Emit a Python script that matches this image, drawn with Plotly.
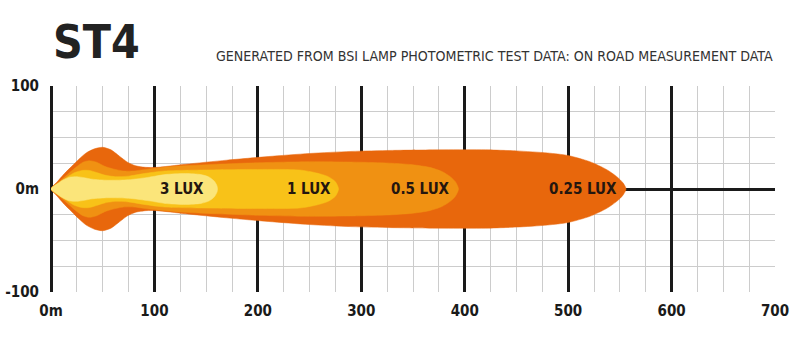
import plotly.graph_objects as go

# ---- data (upper half of each iso-lux contour, metres) ----
lux_levels = ["0.25 LUX", "0.5 LUX", "1 LUX", "3 LUX"]

x_025 = [0, 6, 13, 20, 27, 34, 42, 50, 58, 66, 74, 82, 92, 102, 130, 170, 210, 250, 290, 330, 380, 420, 450, 480, 500, 521, 537, 547, 553, 556]
y_025 = [0, 7, 15, 22, 29, 35, 39, 40.5, 38, 32, 26, 22.5, 21, 21, 24, 28, 31.5, 34.5, 36.5, 37.5, 38, 38, 37, 35, 32.5, 26.5, 19, 12, 6, 0]

x_05 = [0, 8, 16, 24, 31, 37, 44, 52, 60, 70, 80, 95, 120, 160, 200, 250, 300, 330, 350, 366, 378, 386, 391, 394]
y_05 = [0, 7, 14, 21, 26, 27.5, 26, 22, 19.5, 17.5, 17.5, 19.5, 22, 24, 25.5, 26.5, 26, 25, 23.5, 21, 17, 12, 7, 0]

x_1 = [0, 8, 15, 22, 30, 37, 44, 52, 62, 75, 90, 110, 150, 200, 240, 257, 268, 275, 278]
y_1 = [0, 6, 11, 15.5, 18, 18, 16, 13.5, 12, 12.5, 15, 17.5, 18.5, 19, 18.5, 15.5, 12, 7, 0]

x_3 = [0, 6, 12, 18, 25, 32, 40, 55, 75, 95, 110, 130, 145, 153, 158, 160.5, 161]
y_3 = [0, 5, 9, 11.5, 12, 11, 9.5, 8.5, 9, 11.5, 14, 15, 14, 11.5, 7.5, 3, 0]

label_x = [514.5, 357, 249.5, 127]

x_tickvals = [0, 100, 200, 300, 400, 500, 600, 700]
x_ticktext = ["0m", "100", "200", "300", "400", "500", "600", "700"]
y_tickvals = [-100, 0, 100]
y_ticktext = ["-100", "0m", "100"]

title_text = "ST4"
subtitle_text = "GENERATED FROM BSI LAMP PHOTOMETRIC TEST DATA: ON ROAD MEASUREMENT DATA"

# ---- styles ----
colors = ["#E8670C", "#F09112", "#F8C218", "#FBE57A"]
FONT = "DejaVu Sans Condensed, DejaVu Sans, sans-serif"

contours = [(x_025, y_025), (x_05, y_05), (x_1, y_1), (x_3, y_3)]

fig = go.Figure()
for (xs, ys), col in zip(contours, colors):
    px = list(xs) + list(reversed(xs))[1:]
    py = list(ys) + [-v for v in reversed(ys)][1:]
    fig.add_trace(go.Scatter(
        x=px, y=py, mode="lines", fill="toself", fillcolor=col,
        line=dict(color=col, width=0.5, shape="spline", smoothing=0.7),
        hoverinfo="skip", showlegend=False,
    ))

for txt, lx in zip(lux_levels, label_x):
    fig.add_annotation(x=lx, y=0, text=txt, showarrow=False,
                       xanchor="center", yanchor="middle",
                       font=dict(family=FONT, size=15, color="#24160f", weight="bold"))

fig.add_annotation(xref="paper", yref="paper", x=0.0, y=1.215, text=title_text,
                   showarrow=False, xanchor="left", yanchor="middle",
                   font=dict(family=FONT, size=46, color="#222222", weight="bold"))
fig.add_annotation(xref="paper", yref="paper", x=1.0, y=1.145, text=subtitle_text,
                   showarrow=False, xanchor="right", yanchor="middle",
                   font=dict(family=FONT, size=14.1, color="#333333"))

tickfont = dict(family=FONT, size=15, color="#1a1a1a", weight="bold")

fig.update_xaxes(
    range=[0, 700], tickvals=x_tickvals, ticktext=x_ticktext,
    showgrid=True, gridcolor="#1a1a1a", gridwidth=3,
    minor=dict(dtick=25, tick0=0, showgrid=True, gridcolor="#cccccc", gridwidth=1),
    zeroline=True, zerolinecolor="#1a1a1a", zerolinewidth=3,
    showline=False, ticks="", ticklabelstandoff=8,
    tickfont=tickfont, automargin=False, fixedrange=True,
)
fig.update_yaxes(
    range=[-100, 100], tickvals=y_tickvals, ticktext=y_ticktext,
    showgrid=True, gridcolor="#cccccc", gridwidth=1,
    minor=dict(dtick=25, tick0=0, showgrid=True, gridcolor="#cccccc", gridwidth=1),
    zeroline=True, zerolinecolor="#1a1a1a", zerolinewidth=3,
    showline=False, ticks="", ticklabelstandoff=11,
    tickfont=tickfont, automargin=False, fixedrange=True,
)

fig.update_layout(
    width=800, height=353,
    margin=dict(l=51, r=25, t=86, b=61),
    paper_bgcolor="white", plot_bgcolor="white",
    showlegend=False, hovermode=False,
)

fig.write_html("out.html", config={"displayModeBar": False})
